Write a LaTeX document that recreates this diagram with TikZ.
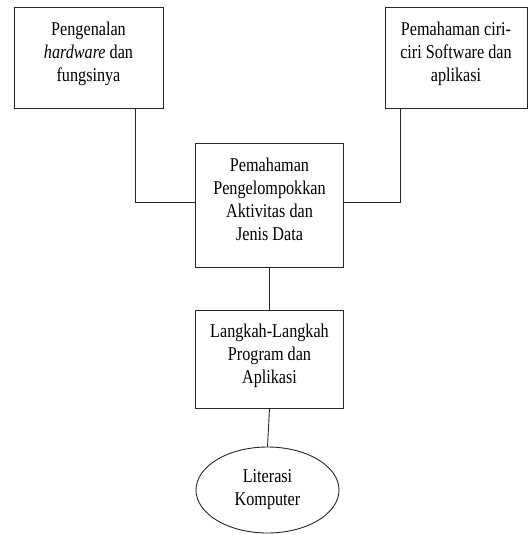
\documentclass[tikz,border=0pt]{standalone}
\usepackage{fontspec}
\setmainfont{Liberation Serif}[FakeStretch=0.83]
\usepackage{tikz}
\usetikzlibrary{shapes.geometric}

\begin{document}
\begin{tikzpicture}[x=1pt,y=-1pt,
	kotak/.style={draw=black!85,line width=0.9pt,rectangle,align=center,inner sep=0pt,font=\fontsize{19.5}{23}\selectfont},
	bulat/.style={draw=black!85,line width=0.9pt,ellipse,align=center,inner sep=0pt,font=\fontsize{19.5}{23}\selectfont},
	garis/.style={draw=black!85,line width=0.9pt}]
	\useasboundingbox (0,0) rectangle (528,535);
	\node [kotak,minimum width=149pt,minimum height=101pt] (hw) at (88.5,57.5) {Pengenalan\\\textit{hardware} dan\\fungsinya\\[-12pt]\mbox{}};
	\node [kotak,minimum width=142pt,minimum height=101pt] (sw) at (456,57.5) {Pemahaman ciri-\\ciri Software dan\\aplikasi\\[-12pt]\mbox{}};
	\node [kotak,minimum width=148pt,minimum height=124pt] (data) at (269.5,205) {Pemahaman\\Pengelompokkan\\Aktivitas dan\\Jenis Data\\[-12pt]\mbox{}};
	\node [kotak,minimum width=148pt,minimum height=98pt] (langkah) at (269.5,359) {Langkah-Langkah\\Program dan\\Aplikasi\\[-12pt]\mbox{}};
	\node [bulat,minimum width=143pt,minimum height=86pt] (lit) at (267.5,490) {Literasi\\Komputer};
	\draw [garis] ([xshift=46.5]hw.south) |- ([yshift=3]data.west);
	\draw [garis] ([xshift=-56]sw.south) |- ([yshift=3]data.east);
	\draw [garis] (data.south) -- (langkah.north);
	\draw [garis] (langkah.south) -- (lit.north);
\end{tikzpicture}
\end{document}
